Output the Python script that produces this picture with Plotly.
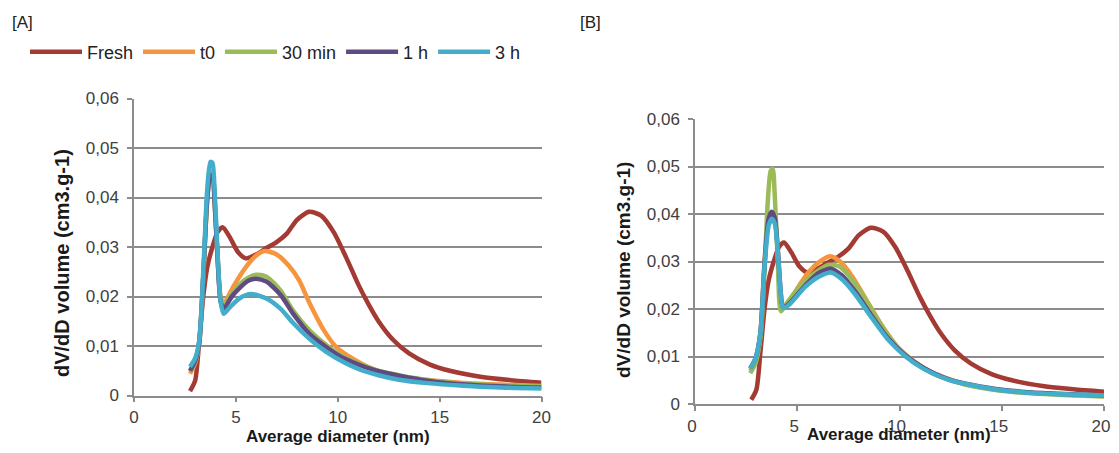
import plotly.graph_objects as go

# ---------------- data ----------------
series_names = ["Fresh", "t0", "30 min", "1 h", "3 h"]
colors = ["#A33A33", "#F7953F", "#9BBB59", "#5F4A82", "#43AECB"]

# Panel A
a_fresh_x = [2.75, 3.0, 3.2, 3.4, 3.6, 3.85, 4.1, 4.35, 4.7, 5.1, 5.5, 6.0, 6.5, 7.0, 7.5, 8.0, 8.6, 9.2, 9.8, 10.4, 11.0, 11.5, 12.0, 12.7, 13.5, 14.5, 15.5, 17.0, 18.5, 20.0]
a_fresh_y = [0.0009, 0.0030, 0.0110, 0.0200, 0.0260, 0.0300, 0.0330, 0.0340, 0.0320, 0.0290, 0.0277, 0.0285, 0.0298, 0.0310, 0.0327, 0.0355, 0.0371, 0.0363, 0.0330, 0.0280, 0.0225, 0.0185, 0.0150, 0.0113, 0.0085, 0.0063, 0.0050, 0.0038, 0.0031, 0.0026]

a_t0_x = [2.75, 3.0, 3.2, 3.4, 3.6, 3.75, 3.85, 3.95, 4.1, 4.25, 4.4, 4.9, 5.5, 6.0, 6.4, 7.0, 7.6, 8.1, 8.6, 9.3, 9.9, 10.8, 11.9, 13.5, 16.0, 18.0, 20.0]
a_t0_y = [0.0044, 0.0065, 0.0105, 0.0240, 0.0400, 0.0450, 0.0450, 0.0400, 0.0280, 0.0200, 0.0186, 0.0222, 0.0260, 0.0283, 0.0292, 0.0285, 0.0262, 0.0233, 0.0188, 0.0133, 0.0099, 0.0073, 0.0051, 0.0036, 0.0026, 0.0022, 0.0019]

a_30_x = [2.75, 3.0, 3.2, 3.4, 3.6, 3.75, 3.85, 3.95, 4.1, 4.25, 4.4, 4.8, 5.2, 5.6, 6.0, 6.5, 7.2, 7.8, 8.6, 9.5, 10.3, 11.9, 14.4, 17.0, 20.0]
a_30_y = [0.0048, 0.0068, 0.0105, 0.0240, 0.0400, 0.0450, 0.0450, 0.0400, 0.0280, 0.0195, 0.0180, 0.0205, 0.0225, 0.0238, 0.0244, 0.0240, 0.0212, 0.0172, 0.0132, 0.0100, 0.0078, 0.0051, 0.0031, 0.0022, 0.0018]

a_1h_x = a_30_x
a_1h_y = [0.0050, 0.0070, 0.0105, 0.0240, 0.0400, 0.0445, 0.0445, 0.0395, 0.0280, 0.0190, 0.0175, 0.0200, 0.0218, 0.0232, 0.0236, 0.0230, 0.0203, 0.0166, 0.0125, 0.0096, 0.0075, 0.0050, 0.0030, 0.0020, 0.0016]

a_3h_x = [2.75, 3.0, 3.2, 3.4, 3.6, 3.75, 3.85, 3.95, 4.1, 4.25, 4.4, 4.7, 5.2, 5.75, 6.5, 7.2, 7.8, 8.6, 9.4, 10.3, 11.1, 12.0, 13.0, 14.4, 16.0, 18.0, 20.0]
a_3h_y = [0.0058, 0.0075, 0.0110, 0.0250, 0.0420, 0.0472, 0.0470, 0.0420, 0.0290, 0.0190, 0.0165, 0.0178, 0.0197, 0.0205, 0.0196, 0.0175, 0.0147, 0.0115, 0.0089, 0.0067, 0.0052, 0.0041, 0.0032, 0.0025, 0.0020, 0.0016, 0.0014]

# Panel B
b_fresh_x = a_fresh_x
b_fresh_y = a_fresh_y

b_t0_x = [2.7, 2.95, 3.2, 3.4, 3.6, 3.75, 3.9, 4.05, 4.2, 4.35, 4.6, 5.1, 5.6, 6.1, 6.6, 7.1, 7.7, 8.3, 9.1, 9.9, 10.8, 11.6, 13.2, 15.6, 18.0, 20.0]
b_t0_y = [0.0070, 0.0090, 0.0150, 0.0300, 0.0390, 0.0400, 0.0390, 0.0320, 0.0220, 0.0205, 0.0215, 0.0250, 0.0280, 0.0300, 0.0311, 0.0300, 0.0268, 0.0225, 0.0168, 0.0120, 0.0087, 0.0066, 0.0042, 0.0026, 0.0020, 0.0017]

b_30_x = [2.7, 2.95, 3.2, 3.4, 3.55, 3.7, 3.8, 3.9, 4.05, 4.2, 4.45, 5.1, 5.9, 6.55, 7.05, 7.7, 8.35, 9.15, 9.95, 10.8, 11.6, 13.2, 15.6, 18.0, 20.0]
b_30_y = [0.0065, 0.0085, 0.0140, 0.0280, 0.0420, 0.0490, 0.0495, 0.0440, 0.0300, 0.0195, 0.0210, 0.0247, 0.0277, 0.0293, 0.0290, 0.0261, 0.0219, 0.0163, 0.0118, 0.0086, 0.0065, 0.0041, 0.0025, 0.0019, 0.0016]

b_1h_x = [2.7, 2.95, 3.2, 3.4, 3.6, 3.75, 3.9, 4.05, 4.2, 4.3, 4.6, 5.4, 6.05, 6.65, 7.2, 7.85, 8.65, 9.45, 10.3, 11.1, 12.4, 14.8, 17.0, 20.0]
b_1h_y = [0.0075, 0.0095, 0.0150, 0.0295, 0.0390, 0.0405, 0.0392, 0.0325, 0.0232, 0.0203, 0.0211, 0.0250, 0.0276, 0.0285, 0.0270, 0.0236, 0.0185, 0.0138, 0.0102, 0.0078, 0.0052, 0.0031, 0.0023, 0.0018]

b_3h_x = b_1h_x
b_3h_y = [0.0075, 0.0095, 0.0150, 0.0290, 0.0375, 0.0390, 0.0380, 0.0320, 0.0230, 0.0202, 0.0209, 0.0247, 0.0268, 0.0277, 0.0262, 0.0230, 0.0181, 0.0135, 0.0100, 0.0076, 0.0051, 0.0030, 0.0022, 0.0018]

y_tickvals = [0, 0.01, 0.02, 0.03, 0.04, 0.05, 0.06]
y_ticktext = ["0", "0,01", "0,02", "0,03", "0,04", "0,05", "0,06"]
x_tickvals = [0, 5, 10, 15, 20]
x_ticktext = ["0", "5", "10", "15", "20"]

panel_a = [(a_fresh_x, a_fresh_y), (a_t0_x, a_t0_y), (a_30_x, a_30_y), (a_1h_x, a_1h_y), (a_3h_x, a_3h_y)]
panel_b = [(b_fresh_x, b_fresh_y), (b_t0_x, b_t0_y), (b_30_x, b_30_y), (b_1h_x, b_1h_y), (b_3h_x, b_3h_y)]

# ---------------- figure ----------------
# The page body keeps the browser's default 8px margin, so the figure is 16px
# smaller than the window and window-pixel positions are shifted by 8px.
W, H = 1103, 437
OFF = 8
fig = go.Figure()

for i, (xs, ys) in enumerate(panel_a):
    fig.add_trace(go.Scatter(x=xs, y=ys, mode="lines", name=series_names[i],
                             line=dict(color=colors[i], width=4.5, shape="spline", smoothing=0.7),
                             xaxis="x", yaxis="y", showlegend=True, legendgroup=series_names[i]))
for i, (xs, ys) in enumerate(panel_b):
    fig.add_trace(go.Scatter(x=xs, y=ys, mode="lines", name=series_names[i],
                             line=dict(color=colors[i], width=4.5, shape="spline", smoothing=0.7),
                             xaxis="x2", yaxis="y2", showlegend=False, legendgroup=series_names[i]))

def px_x(p):
    return (p - OFF) / W

def px_y(p):
    return 1 - (p - OFF) / H

FONT = "Liberation Sans, Arial, sans-serif"
tickfont = dict(family=FONT, size=17, color="#404040")
grid = "#8C8C8C"

xaxis_common = dict(range=[0, 20], tickvals=x_tickvals, ticktext=x_ticktext, showgrid=False,
                    showline=True, linecolor=grid, linewidth=1.5, ticks="outside", ticklen=5,
                    tickcolor=grid, tickwidth=1.5, tickfont=tickfont, zeroline=False,
                    fixedrange=True, automargin=False)
yaxis_common = dict(range=[0, 0.06], tickvals=y_tickvals, ticktext=y_ticktext, showgrid=True,
                    gridcolor=grid, gridwidth=1.5, showline=True, linecolor=grid, linewidth=1.5,
                    ticks="outside", ticklen=5, tickcolor=grid, tickwidth=1.5, tickfont=tickfont,
                    zeroline=False, ticklabelstandoff=5, fixedrange=True, automargin=False)

fig.update_layout(
    width=W, height=H,
    margin=dict(l=0, r=0, t=0, b=0, autoexpand=False),
    paper_bgcolor="white", plot_bgcolor="white",
    font=dict(family=FONT, color="black"),
    xaxis=dict(domain=[px_x(134), px_x(541.5)], anchor="y", ticklabelstandoff=0, **xaxis_common),
    yaxis=dict(domain=[px_y(395.5), px_y(98.5)], anchor="x", **yaxis_common),
    xaxis2=dict(domain=[px_x(695), px_x(1104)], anchor="y2", ticklabelshift=-3, ticklabelstandoff=1,
                **xaxis_common),
    yaxis2=dict(domain=[px_y(404), px_y(119)], anchor="x2", **yaxis_common),
    legend=dict(orientation="h", x=px_x(25), y=px_y(52), xanchor="left", yanchor="middle",
                font=dict(size=18, color="#222222", family=FONT),
                bgcolor="rgba(0,0,0,0)", itemwidth=52, traceorder="normal",
                entrywidth=0),
    showlegend=True,
)

annots = [
    dict(text="[A]", x=px_x(10), y=px_y(22), xanchor="left", yanchor="middle", font=dict(size=17, color="#222222")),
    dict(text="[B]", x=px_x(578), y=px_y(22), xanchor="left", yanchor="middle", font=dict(size=17, color="#222222")),
    dict(text="<b>dV/dD volume (cm3.g-1)</b>", x=px_x(62), y=px_y(263), textangle=-90,
         xanchor="center", yanchor="middle", font=dict(size=20, color="#1a1a1a")),
    dict(text="<b>dV/dD volume (cm3.g-1)</b>", x=px_x(623), y=px_y(270), textangle=-90,
         xanchor="center", yanchor="middle", font=dict(size=19, color="#1a1a1a")),
    dict(text="<b>Average diameter (nm)</b>", x=px_x(338), y=px_y(447.5), xanchor="center", yanchor="bottom",
         font=dict(size=17, color="#1a1a1a")),
    dict(text="<b>Average diameter (nm)</b>", x=px_x(899), y=px_y(446), xanchor="center", yanchor="bottom",
         font=dict(size=17, color="#1a1a1a")),
]
for a in annots:
    a.update(xref="paper", yref="paper", showarrow=False)
fig.update_layout(annotations=annots)

fig.write_html("out.html", config={"displayModeBar": False})
